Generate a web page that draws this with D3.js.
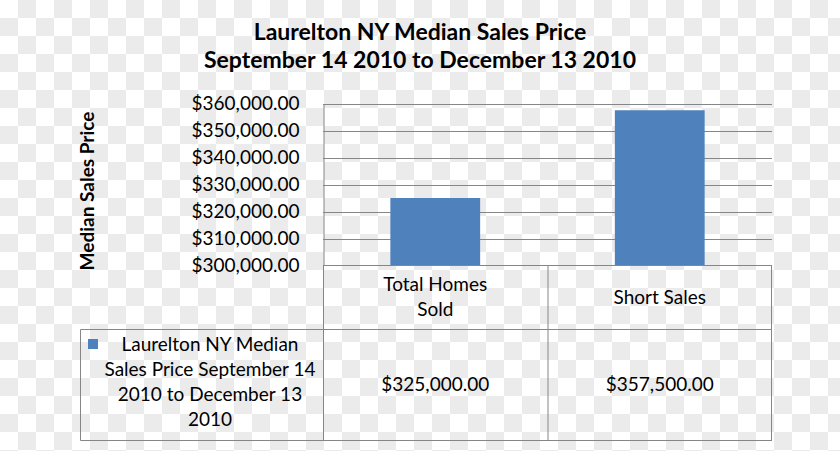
<!DOCTYPE html>
<html><head><meta charset="utf-8">
<script src="https://cdn.jsdelivr.net/npm/d3@7"></script>
<style>
html,body{margin:0;padding:0;background:#fff;}
svg{display:block;}
text{font-family:Lato,"Open Sans",sans-serif;fill:#000;}
</style></head>
<body>
<svg id="chart" width="840" height="451"></svg>
<script>
const titleLines = ["Laurelton NY Median Sales Price", "September 14 2010 to December 13 2010"];
const categories = [["Total Homes", "Sold"], ["Short Sales"]];
const categoryKeys = ["Total Homes Sold", "Short Sales"];
const values = [325000, 357500];
const valueLabels = ["$325,000.00", "$357,500.00"];
const yTicks = [300000, 310000, 320000, 330000, 340000, 350000, 360000];
const yAxisTitle = "Median Sales Price";
const legendLines = ["Laurelton NY Median", "Sales Price September 14", "2010 to December 13", "2010"];

const W = 840, H = 451;
const svg = d3.select("#chart");

// checkerboard transparency background
const defs = svg.append("defs");
const pat = defs.append("pattern").attr("id","chk").attr("width",36).attr("height",36).attr("patternUnits","userSpaceOnUse");
pat.append("rect").attr("width",36).attr("height",36).attr("fill","#ffffff");
pat.append("rect").attr("x",18).attr("y",0).attr("width",18).attr("height",18).attr("fill","#ebebeb");
pat.append("rect").attr("x",0).attr("y",18).attr("width",18).attr("height",18).attr("fill","#ebebeb");
svg.append("rect").attr("width",W).attr("height",H).attr("fill","url(#chk)");

const plotL = 323, plotR = 772, plotT = 103.5, plotB = 265.5;
const x = d3.scaleBand().domain(categoryKeys).range([plotL, plotR]).paddingInner(0.6).paddingOuter(0.3);
const y = d3.scaleLinear().domain([300000, 360000]).range([plotB, plotT]);
const lineColor = "#868686";
const fmt = d3.format("$,.2f");
const bodySize = 19;

// gridlines
svg.append("g").selectAll("line").data(yTicks.slice(1)).join("line")
  .attr("x1", plotL).attr("x2", plotR)
  .attr("y1", d => Math.round(y(d)) + 0.5).attr("y2", d => Math.round(y(d)) + 0.5)
  .attr("stroke", lineColor).attr("stroke-width", 1);

// y axis with tick labels
const yAxis = d3.axisLeft(y).tickValues(yTicks).tickFormat(fmt).tickSize(0).tickPadding(24);
const yg = svg.append("g").attr("transform", `translate(${plotL + 0.5},0)`).call(yAxis);
yg.select(".domain").attr("stroke", lineColor);
yg.selectAll("text").attr("font-family", "Lato, 'Open Sans', sans-serif").attr("font-size", bodySize).attr("fill", "#000");

// bars
svg.append("g").selectAll("rect").data(values).join("rect")
  .attr("x", (d,i) => x(categoryKeys[i]))
  .attr("width", x.bandwidth())
  .attr("y", d => y(d))
  .attr("height", d => y(300000) - y(d))
  .attr("fill", "#4f81bd");

// data table lines
const rowTop = plotB, rowMid = 329.5, rowBot = 440.5, legL = 80.5;
const tbl = svg.append("g").attr("stroke", lineColor).attr("stroke-width", 1);
tbl.append("line").attr("x1", plotL).attr("x2", plotR).attr("y1", rowTop).attr("y2", rowTop);
tbl.append("line").attr("x1", legL).attr("x2", plotR).attr("y1", rowMid).attr("y2", rowMid);
tbl.append("line").attr("x1", legL).attr("x2", plotR).attr("y1", rowBot).attr("y2", rowBot);
tbl.append("line").attr("x1", legL).attr("x2", legL).attr("y1", rowMid).attr("y2", rowBot);
const colEdges = [plotL + 0.5, (plotL + plotR) / 2 + 0.5, plotR - 0.5];
tbl.selectAll("line.v").data(colEdges).join("line").attr("class","v")
  .attr("x1", d => d).attr("x2", d => d).attr("y1", rowTop).attr("y2", rowBot);

// category labels
const catG = svg.append("g").attr("font-size", bodySize).attr("text-anchor", "middle");
categories.forEach((lines, i) => {
  const cx = x(categoryKeys[i]) + x.bandwidth() / 2;
  const lh = 24.5;
  const startY = (rowTop + rowMid) / 2 + 6 - (lines.length - 1) * lh / 2;
  lines.forEach((t, j) => {
    catG.append("text").attr("x", cx).attr("y", startY + j * lh).text(t);
  });
});

// value labels
svg.append("g").attr("font-size", bodySize).attr("text-anchor", "middle")
  .selectAll("text").data(valueLabels).join("text")
  .attr("x", (d,i) => x(categoryKeys[i]) + x.bandwidth() / 2)
  .attr("y", (rowMid + rowBot) / 2 + 6)
  .text(d => d);

// legend
svg.append("rect").attr("x", 88).attr("y", 339).attr("width", 10).attr("height", 10).attr("fill", "#4f81bd");
svg.append("g").attr("font-size", bodySize).attr("text-anchor", "middle")
  .selectAll("text").data(legendLines).join("text")
  .attr("x", 210).attr("y", (d,i) => 350.5 + i * 25)
  .text(d => d);

// title
svg.append("g").attr("font-size", 23).attr("font-weight", "bold").attr("text-anchor", "middle")
  .selectAll("text").data(titleLines).join("text")
  .attr("x", 420).attr("y", (d,i) => 39.5 + i * 28)
  .text(d => d);

// y axis title
svg.append("text").attr("transform", "translate(94,191) rotate(-90)")
  .attr("text-anchor", "middle").attr("font-size", bodySize).attr("font-weight", "bold")
  .text(yAxisTitle);
</script>
</body></html>
